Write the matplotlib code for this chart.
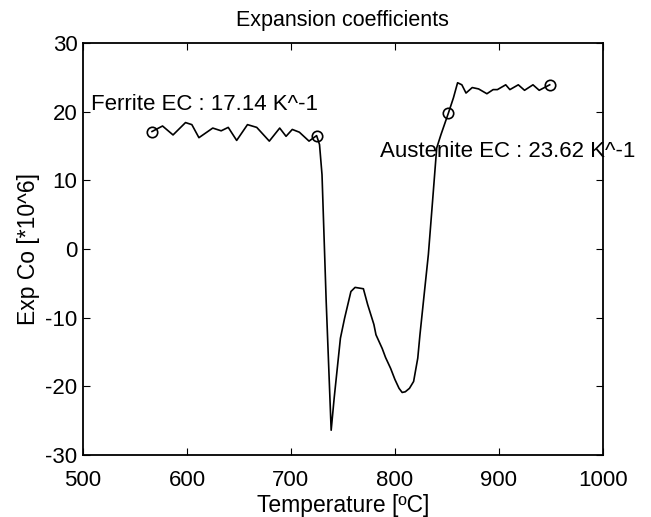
import matplotlib.pyplot as plt
import numpy as np

# expansion coefficient curve
temp = [566.4, 576.5, 586.6, 598.6, 604.7, 611.5, 624.8, 632.9, 639.7, 647.8,
        658.2, 667.1, 679.2, 689.2, 695.3, 701.3, 708.1, 717.4, 724.7,
        727.5, 729.9, 733.9, 738.7, 741.6, 747.6, 751.6, 757.7, 761.7, 769.7,
        773.8, 779.8, 781.8, 787.8, 791.0, 795.9, 800.0, 804.0, 807.0, 810.0,
        814.0, 818.0, 822.0, 824.1, 828.1, 832.2, 836.2, 840.2, 844.2, 851.5,
        856.3, 860.3, 864.4, 868.4, 874.4, 880.5, 888.5, 894.5, 898.6, 906.6,
        910.6, 918.7, 924.7, 932.8, 938.8, 948.9]
expco = [17.1, 17.9, 16.6, 18.4, 18.1, 16.2, 17.6, 17.2, 17.7, 15.8,
         18.1, 17.7, 15.7, 17.6, 16.4, 17.4, 17.0, 15.7, 16.5,
         15.2, 10.8, -7.6, -26.4, -21.7, -13.0, -10.1, -6.2, -5.6, -5.8,
         -8.1, -11.0, -12.5, -14.5, -15.8, -17.4, -19.0, -20.3, -20.9, -20.8,
         -20.3, -19.3, -15.9, -12.5, -6.7, -0.8, 6.9, 14.7, 16.6, 19.8,
         22.0, 24.2, 23.9, 22.7, 23.5, 23.3, 22.6, 23.2, 23.2, 23.9,
         23.2, 23.9, 23.1, 23.9, 23.1, 23.9]

# fit range end points (circles)
mark_t = [566.4, 724.7, 851.5, 948.9]
mark_v = [17.1, 16.5, 19.8, 23.9]

ferrite_txt = 'Ferrite EC : 17.14 K^-1'
austenite_txt = 'Austenite EC : 23.62 K^-1'

plt.rcParams['font.family'] = ['Liberation Sans', 'DejaVu Sans']
plt.rcParams['axes.unicode_minus'] = False

fig = plt.figure(figsize=(6.51, 5.17), dpi=100)
ax = fig.add_axes([0.1275, 0.12, 0.7985, 0.797])

ax.plot(temp, expco, color='black', linewidth=1.2)
ax.plot(mark_t, mark_v, linestyle='none', marker='o', markersize=7.5,
        markerfacecolor='none', markeredgecolor='black', markeredgewidth=1.2)

ax.text(507.5, 21.1, ferrite_txt, fontsize=16, va='center', ha='left', clip_on=False)
ax.text(786, 14.2, austenite_txt, fontsize=16, va='center', ha='left', clip_on=False)

ax.set_xlim(500, 1000)
ax.set_ylim(-30, 30)
ax.set_xticks(np.arange(500, 1001, 100))
ax.set_yticks(np.arange(-30, 31, 10))
ax.tick_params(direction='in', top=True, right=True, labelsize=16, length=5)
ax.tick_params(axis='x', pad=11)
ax.tick_params(axis='y', pad=4)
for s in ax.spines.values():
    s.set_linewidth(1.3)

ax.set_title('Expansion coefficients', fontsize=15.5, pad=12)
ax.set_xlabel('Temperature [ºC]', fontsize=16.5, labelpad=2)
ax.set_ylabel('Exp Co [*10^6]', fontsize=16.5, labelpad=4)

plt.savefig('out.png', dpi=100)
